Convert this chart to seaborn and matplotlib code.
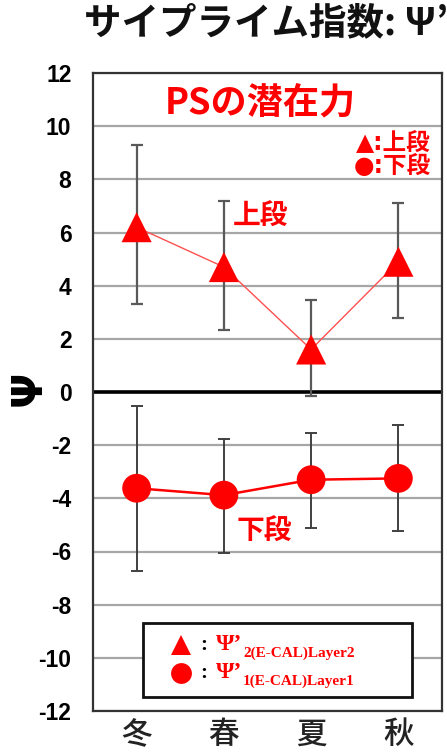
import matplotlib
matplotlib.use("Agg")
import matplotlib.pyplot as plt
from matplotlib.lines import Line2D
from matplotlib.patches import Rectangle
import seaborn as sns
import numpy as np

# ---- data ----
seasons = ["冬", "春", "夏", "秋"]
upper_vals = [6.2, 4.7, 1.6, 4.9]
upper_hi = [9.3, 7.2, 3.45, 7.1]
upper_lo = [3.3, 2.35, -0.15, 2.8]
lower_vals = [-3.62, -3.88, -3.3, -3.25]
lower_hi = [-0.52, -1.77, -1.55, -1.25]
lower_lo = [-6.72, -6.05, -5.12, -5.22]
yticks = list(range(-12, 13, 2))

sns.set_theme(style="white")
plt.rcParams["font.family"] = ["Noto Sans CJK JP", "DejaVu Sans"]

W, H = 447, 755
fig = plt.figure(figsize=(W / 100, H / 100), dpi=100)
fig.patch.set_facecolor("white")

def fx(px):
    return px / W

def fy(py):
    return 1 - py / H

ax = fig.add_axes([fx(93), fy(711), fx(442) - fx(93), fy(73) - fy(711)])
ax.set_facecolor("white")

pos = np.arange(len(seasons))
red = "#ff0000"

# gridlines
for t in yticks:
    if t == 0:
        continue
    ax.axhline(t, color="#a6a6a6", lw=1.6, zorder=1)
ax.axhline(0, color="black", lw=2.6, zorder=2)

# error bars
up = np.array(upper_vals)
ax.errorbar(pos, up, yerr=[up - np.array(upper_lo), np.array(upper_hi) - up],
            fmt="none", ecolor="#595959", elinewidth=1.6, capsize=4, capthick=1.6, zorder=3)
lo = np.array(lower_vals)
ax.errorbar(pos, lo, yerr=[lo - np.array(lower_lo), np.array(lower_hi) - lo],
            fmt="none", ecolor="#404040", elinewidth=1.4, capsize=4, capthick=1.4, zorder=3)

# lines
sns.lineplot(x=pos, y=upper_vals, ax=ax, color="#ff5050", lw=1.0, zorder=4)
sns.lineplot(x=pos, y=lower_vals, ax=ax, color=red, lw=1.8, zorder=4)

# markers
sns.scatterplot(x=pos, y=upper_vals, ax=ax, marker="^", s=470, color=red,
                edgecolor="none", linewidth=0, zorder=5)
sns.scatterplot(x=pos, y=lower_vals, ax=ax, marker="o", s=430, color=red,
                edgecolor="none", linewidth=0, zorder=5)

ax.set_xlim(-0.5, 3.5)
ax.set_ylim(-12, 12)
ax.set_yticks(yticks)
ax.set_yticklabels([str(t) for t in yticks], fontsize=16.5, fontweight="bold",
                   family=["Liberation Sans", "DejaVu Sans"], color="black")
ax.set_xticks(pos)
ax.set_xticklabels(seasons, fontsize=22, color="#222222", fontweight="medium",
                   family=["Noto Sans CJK JP"])
ax.tick_params(axis="y", length=0, pad=15.5)
ax.tick_params(axis="x", length=0, pad=6)
for s in ax.spines.values():
    s.set_color("#333333")
    s.set_linewidth(1.6)
    s.set_visible(True)

ax.set_ylabel("")
ax.set_xlabel("")
fig.text(fx(29), fy(388), "Ψ", rotation=90, fontsize=30, fontweight="bold",
         ha="center", va="center", family=["DejaVu Sans"], color="black")

# title (clipped on the right as in the reference)
fig.text(fx(84), fy(23), "サイプライム指数: Ψ’", fontsize=27, fontweight="bold",
         ha="left", va="center", color="#111111",
         family=["Noto Sans CJK JP", "DejaVu Sans"])

# annotations
fig.text(fx(260), fy(103), "PSの潜在力", fontsize=26, fontweight="bold",
         ha="center", va="center", color=red,
         family=["Noto Sans CJK JP", "DejaVu Sans"])
fig.text(fx(431), fy(143), "▲:上段", fontsize=17, fontweight="bold",
         ha="right", va="center", color=red,
         family=["DejaVu Sans", "Noto Sans CJK JP"])
fig.text(fx(431), fy(166), "●:下段", fontsize=17, fontweight="bold",
         ha="right", va="center", color=red,
         family=["DejaVu Sans", "Noto Sans CJK JP"])
fig.text(fx(261), fy(217), "上段", fontsize=20, fontweight="bold",
         ha="center", va="center", color=red, family=["Noto Sans CJK JP"])
fig.text(fx(264), fy(532), "下段", fontsize=20, fontweight="bold",
         ha="center", va="center", color=red, family=["Noto Sans CJK JP"])

# bottom legend box
rect = Rectangle((fx(143), fy(697)), fx(412) - fx(143), fy(623) - fy(697),
                 transform=fig.transFigure, facecolor="white",
                 edgecolor="#111111", lw=2.0, zorder=10)
fig.add_artist(rect)
leg_rows = [(645, "^", "Ψ’", "2(E-CAL)Layer2"), (673, "o", "Ψ’", "1(E-CAL)Layer1")]
for yy, mk, main, sub in leg_rows:
    fig.add_artist(Line2D([fx(181)], [fy(yy)], marker=mk, markersize=15,
                          color=red, markeredgewidth=0, linestyle="none",
                          transform=fig.transFigure, zorder=11))
    fig.text(fx(204), fy(yy), ":", fontsize=15, fontweight="bold", ha="center",
             va="center", color="black", family=["Liberation Serif"], zorder=11)
    fig.text(fx(216), fy(yy - 1), main, fontsize=17, fontweight="bold", ha="left",
             va="center", color=red, family=["Liberation Serif", "DejaVu Serif"], zorder=11)
    fig.text(fx(243), fy(yy + 8), sub, fontsize=11, fontweight="bold", ha="left",
             va="center", color=red, family=["Liberation Serif"], zorder=11)

fig.savefig("out.png", dpi=100, facecolor="white")
